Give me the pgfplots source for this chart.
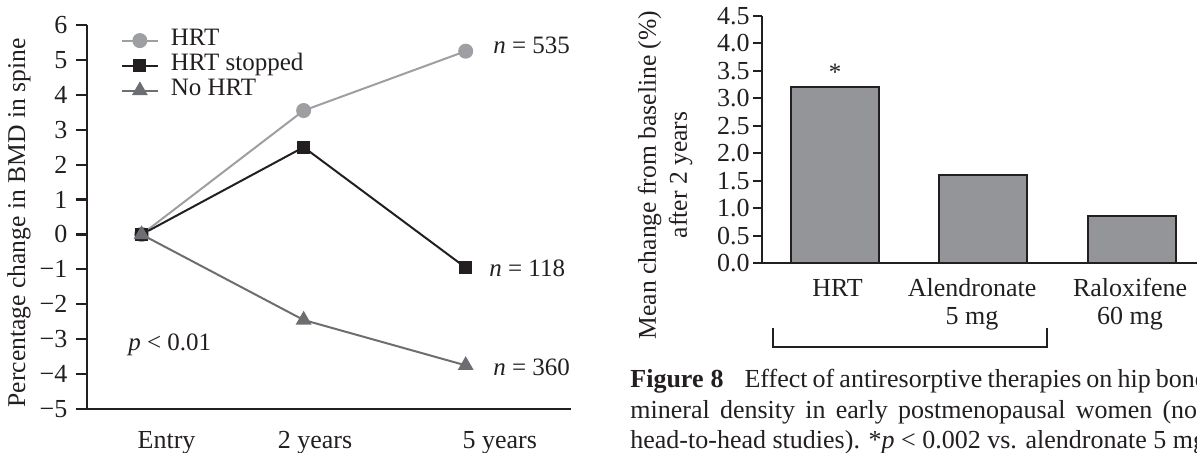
\documentclass[border=0pt]{standalone}
\usepackage{fontspec}
\setmainfont{Liberation Serif}
\usepackage{pgfplots}
\usepackage{pgfplotstable}
\pgfplotsset{compat=1.18}

\definecolor{ink}{HTML}{231F20}
\definecolor{hrtgray}{HTML}{9D9FA2}
\definecolor{nohrtgray}{HTML}{6D6E71}
\definecolor{barfill}{HTML}{939598}

% Spine BMD, percentage change from entry
\pgfplotstableread{
x hrt stopped nohrt
0 0    0     0
1 3.55 2.5  -2.45
2 5.25 -0.95 -3.75
}\bmd

% Hip BMD, mean change after 2 years
\pgfplotstableread{
x change
0 3.2
1 1.6
2 0.85
}\hip

\begin{document}
\fontsize{12.5}{13.5}\selectfont
\begin{tikzpicture}[x=0.5pt, y=0.5pt, font=\fontsize{12.5}{13.5}\selectfont, text=ink]

% ---------------- left: spine BMD over time ----------------
\begin{axis}[
  at={(43.5pt,21.5pt)}, anchor=south west, scale only axis,
  width=242pt, height=192pt,
  xmin=-0.337, xmax=2.65, ymin=-5, ymax=6,
  axis lines=left, axis line style={-, line width=1.1pt, ink},
  tick align=outside, major tick length=5.5pt,
  ytick={-5,-4,-3,-2,-1,0,1,2,3,4,5,6},
  yticklabels={−5,−4,−3,−2,−1,0,1,2,3,4,5,6},
  ytick style={line width=1.1pt, ink},
  xtick={0.154,1.07,2.21}, xticklabels={Entry,2 years,5 years},
  xticklabel style={yshift=-1.5pt},
  xtick style={draw=none},
  tick label style={text=ink, font=\fontsize{13}{14}\selectfont},
  clip=false,
  legend cell align=left,
  legend style={draw=none, fill=none, at={(0.070,0.992)}, anchor=north west,
    inner sep=0pt, outer sep=0pt, row sep=0pt,
    nodes={inner sep=0pt, text height=8.5pt, text depth=4pt, text=ink}},
  legend image code/.code={
    \draw[mark repeat=2, mark phase=2, #1] plot coordinates {(0pt,0pt) (9pt,0pt) (18pt,0pt)};
    \path (24pt,0pt);
  },
]
\addplot[hrtgray, line width=1pt, mark=*, mark size=3.25pt, mark options={solid, fill=hrtgray, draw=hrtgray}]
  table[x=x, y=hrt] {\bmd};
\addlegendentry{HRT}
\addplot[ink, line width=1pt, mark=square*, mark size=2.75pt, mark options={solid, fill=ink, draw=ink}]
  table[x=x, y=stopped] {\bmd};
\addlegendentry{HRT stopped}
\addplot[nohrtgray, line width=1pt, mark=triangle*, mark size=3.6pt, mark options={solid, fill=nohrtgray, draw=nohrtgray}]
  table[x=x, y=nohrt] {\bmd};
\addlegendentry{No HRT}
\end{axis}

\node[rotate=90, font=\fontsize{12.8}{14}\selectfont] at (19, 452-223) {Percentage change in BMD in spine};
\node[anchor=west, inner sep=0pt] at (493, 452-45) {\textit{n} = 535};
\node[anchor=west, inner sep=0pt] at (489, 452-268) {\textit{n} = 118};
\node[anchor=west, inner sep=0pt] at (493, 452-367) {\textit{n} = 360};
\node[anchor=west, inner sep=0pt] at (128, 452-345) {\textit{p} < 0.01};

% ---------------- right: hip BMD by therapy ----------------
\begin{axis}[
  at={(381pt,94.5pt)}, anchor=south west, scale only axis,
  width=217.7pt, height=123.5pt,
  xmin=-0.4876, xmax=2.44, ymin=0, ymax=4.5,
  axis lines=left, axis line style={-, line width=1pt, ink},
  tick align=outside, major tick length=4.5pt,
  ytick={0,0.5,1,1.5,2,2.5,3,3.5,4,4.5},
  yticklabels={0.0,0.5,1.0,1.5,2.0,2.5,3.0,3.5,4.0,4.5},
  yticklabel style={inner sep=1.5pt},
  ytick style={line width=1pt, ink},
  xtick={0.02,0.925,1.987},
  xticklabels={{\strut HRT}, {\strut Alendronate\\\strut 5 mg}, {\strut Raloxifene\\\strut 60 mg}},
  xticklabel style={align=center, anchor=north, inner sep=0pt, yshift=-2pt},
  xtick style={draw=none},
  tick label style={text=ink, font=\fontsize{13}{14}\selectfont},
  ybar, bar width=44pt,
  clip=false,
]
\addplot[fill=barfill, draw=ink, line width=1pt] table[x=x, y=change] {\hip};
\end{axis}

\node[anchor=base] at (835, 452-80) {*};
\node[rotate=90, align=center, font=\fontsize{12.8}{15.5}\selectfont] at (665, 452-175)
  {Mean change from baseline (\%)\\after 2 years};
\draw[ink, line width=1pt] (773, 452-328) -- (773, 452-347) -- (1047, 452-347) -- (1047, 452-328);

% caption
\begin{scope}[font=\fontsize{13}{15}\selectfont]
\node[anchor=base west, inner sep=0pt] at (630, 452-387)
  {\makebox[288pt][s]{\textbf{Figure\hspace{3.5pt}8}\hspace{10.5pt}Effect of antiresorptive therapies on hip bone}};
\node[anchor=base west, inner sep=0pt] at (630, 452-418)
  {\makebox[287pt][s]{mineral density in early postmenopausal women (not}};
\node[anchor=base west, inner sep=0pt] at (630, 452-448)
  {head-to-head studies). *\textit{p} < 0.002 vs. alendronate 5 mg};
\end{scope}

\pgfresetboundingbox
\useasboundingbox (0,0) rectangle (1197,452);
\end{tikzpicture}
\end{document}
